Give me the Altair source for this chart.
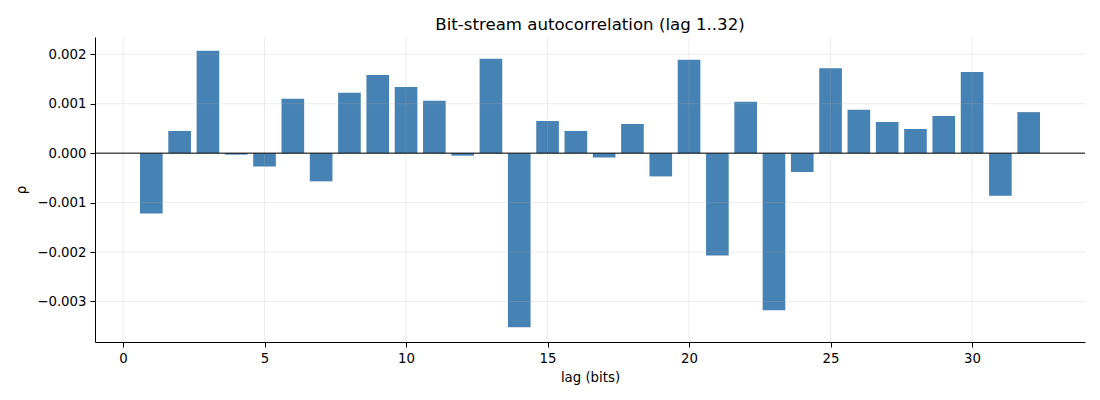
import altair as alt
import pandas as pd

lags = list(range(1, 33))
rho = [
    -0.00122, 0.00045, 0.00207, -0.00003, -0.00027, 0.00110, -0.00057, 0.00122,
    0.00158, 0.00134, 0.00106, -0.00005, 0.00191, -0.00352, 0.00065, 0.00045,
    -0.00009, 0.00059, -0.00047, 0.00189, -0.00207, 0.00104, -0.00318, -0.00038,
    0.00172, 0.00088, 0.00063, 0.00049, 0.00075, 0.00164, -0.00086, 0.00083,
]
x_ticks = [0, 5, 10, 15, 20, 25, 30]
y_ticks = [-0.003, -0.002, -0.001, 0.0, 0.001, 0.002]
title_text = "Bit-stream autocorrelation (lag 1..32)"

df = pd.DataFrame({"lag": lags, "rho": rho})
zero_df = pd.DataFrame({"rho": [0.0]})
xgrid_df = pd.DataFrame({"x0": x_ticks})
ygrid_df = pd.DataFrame({"rho": y_ticks})

FONT = "DejaVu Sans"

x_scale = alt.Scale(domain=[-0.99, 33.99], nice=False, zero=False)
y_scale = alt.Scale(domain=[-0.00382, 0.00235], nice=False, zero=False)

x_axis = alt.Axis(values=x_ticks, format="d", title="lag (bits)", grid=False)
y_axis = alt.Axis(values=y_ticks, format=".3f", title="ρ", grid=False)

bars = (
    alt.Chart(df)
    .transform_calculate(x0="datum.lag - 0.4", x1="datum.lag + 0.4", base="0")
    .mark_bar(color="#4682b4")
    .encode(
        x=alt.X("x0:Q", scale=x_scale, axis=x_axis),
        x2="x1:Q",
        y=alt.Y("rho:Q", scale=y_scale, axis=y_axis),
        y2="base:Q",
    )
)

grid_style = dict(color="#b0b0b0", opacity=0.3, strokeWidth=0.8)

xgrid = (
    alt.Chart(xgrid_df)
    .mark_rule(**grid_style)
    .encode(x=alt.X("x0:Q", scale=x_scale, axis=x_axis))
)
ygrid = (
    alt.Chart(ygrid_df)
    .mark_rule(**grid_style)
    .encode(y=alt.Y("rho:Q", scale=y_scale, axis=y_axis))
)

zero = (
    alt.Chart(zero_df)
    .mark_rule(color="black", strokeWidth=1)
    .encode(y=alt.Y("rho:Q", scale=y_scale, axis=y_axis))
)

chart = (
    alt.layer(bars, xgrid, ygrid, zero)
    .properties(
        width=990,
        height=305,
        autosize=alt.AutoSizeParams(type="none"),
        padding={"left": 87, "top": 29, "right": 7, "bottom": 50},
        title=alt.TitleParams(
            title_text, font=FONT, fontSize=16.6, fontWeight="normal",
            color="black", anchor="middle", offset=3,
        ),
    )
    .configure_view(stroke=None)
    .configure_axis(
        labelFont=FONT, labelFontSize=13.3, labelColor="black",
        titleFont=FONT, titleFontSize=13.3, titleColor="black", titleFontWeight="normal",
        domainColor="black", domainWidth=1, tickColor="black", tickSize=5, tickWidth=1,
        labelPadding=4,
    )
    .configure_axisY(titlePadding=8)
    .configure_axisX(titlePadding=6)
)

chart.save("out.html", embed_options={"renderer": "svg", "actions": False})
